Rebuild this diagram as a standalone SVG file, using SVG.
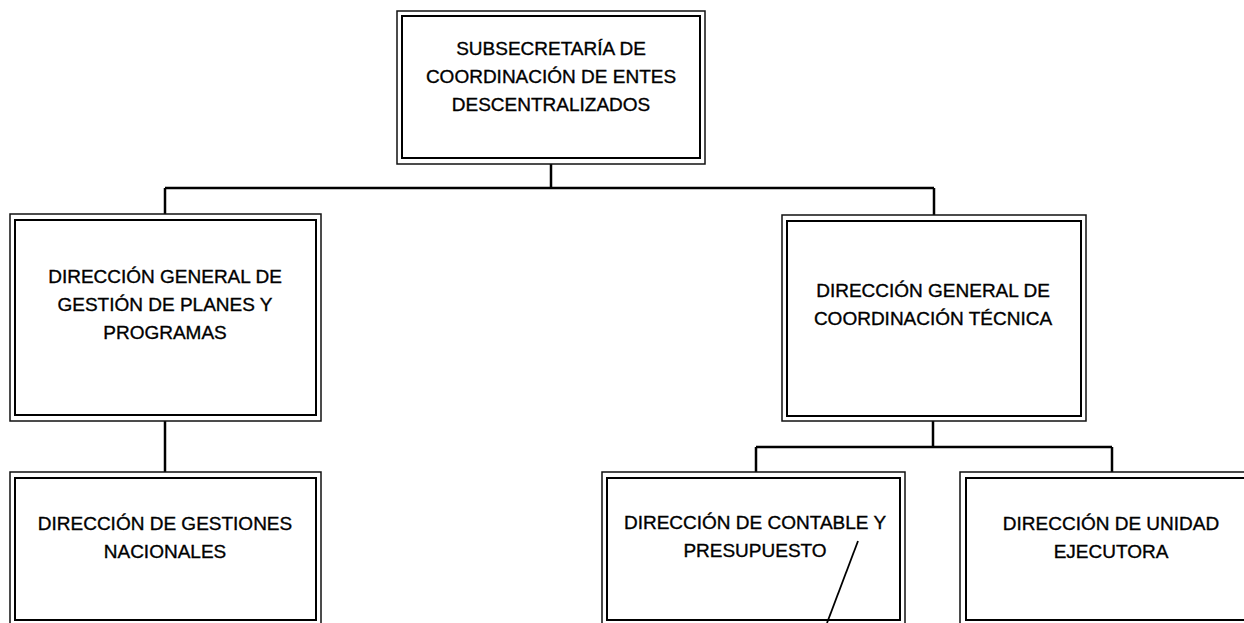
<svg xmlns="http://www.w3.org/2000/svg" width="1244" height="623" viewBox="0 0 1244 623">
<style>
.bg{fill:#ffffff}
.outer{fill:#ffffff;stroke:#111111;stroke-width:1.5}
.inner{fill:none;stroke:#000000;stroke-width:2}
.lbl{font-family:"Liberation Sans",Arial,sans-serif;font-size:19px;fill:#000000;stroke:#000000;stroke-width:0.35;text-anchor:middle}
.conn{fill:none;stroke:#000000;stroke-width:2.5}
.mark{fill:none;stroke:#000000;stroke-width:1.8}
</style>
<rect class="bg" x="0" y="0" width="1244" height="623"/>
<g id="connectors">
<path class="conn" d="M551 164 V188 M165 188 H934 M165 188 V214 M934 188 V215"/>
<path class="conn" d="M165 421 V472"/>
<path class="conn" d="M933 421 V447 M756 447 H1112 M756 447 V472 M1112 447 V472"/>
</g>
<g id="n-subsecretaria">
<rect class="outer" x="397" y="11" width="308" height="153"/>
<rect class="inner" x="402" y="16" width="298" height="142"/>
<text class="lbl" x="551" y="55">SUBSECRETARÍA DE</text>
<text class="lbl" x="551" y="83">COORDINACIÓN DE ENTES</text>
<text class="lbl" x="551" y="111">DESCENTRALIZADOS</text>
</g>
<g id="n-dg-planes">
<rect class="outer" x="10" y="214" width="311" height="207"/>
<rect class="inner" x="15" y="220" width="301" height="195"/>
<text class="lbl" x="165" y="283">DIRECCIÓN GENERAL DE</text>
<text class="lbl" x="165" y="311">GESTIÓN DE PLANES Y</text>
<text class="lbl" x="165" y="339">PROGRAMAS</text>
</g>
<g id="n-dg-coord">
<rect class="outer" x="782" y="215" width="304" height="206"/>
<rect class="inner" x="787" y="221" width="294" height="195"/>
<text class="lbl" x="933" y="297">DIRECCIÓN GENERAL DE</text>
<text class="lbl" x="933" y="325">COORDINACIÓN TÉCNICA</text>
</g>
<g id="n-gestiones">
<rect class="outer" x="10" y="472" width="311" height="156"/>
<rect class="inner" x="15" y="478" width="301" height="142"/>
<text class="lbl" x="165" y="530">DIRECCIÓN DE GESTIONES</text>
<text class="lbl" x="165" y="558">NACIONALES</text>
</g>
<g id="n-contable">
<rect class="outer" x="602" y="472" width="303" height="156"/>
<rect class="inner" x="607" y="478" width="293" height="142"/>
<text class="lbl" x="755" y="529">DIRECCIÓN DE CONTABLE Y</text>
<text class="lbl" x="755" y="557">PRESUPUESTO</text>
<line class="mark" x1="858" y1="541" x2="827" y2="623"/>
</g>
<g id="n-unidad">
<rect class="outer" x="960" y="472" width="304" height="156"/>
<rect class="inner" x="966" y="478" width="294" height="142"/>
<text class="lbl" x="1111" y="530">DIRECCIÓN DE UNIDAD</text>
<text class="lbl" x="1111" y="558">EJECUTORA</text>
</g>
</svg>
